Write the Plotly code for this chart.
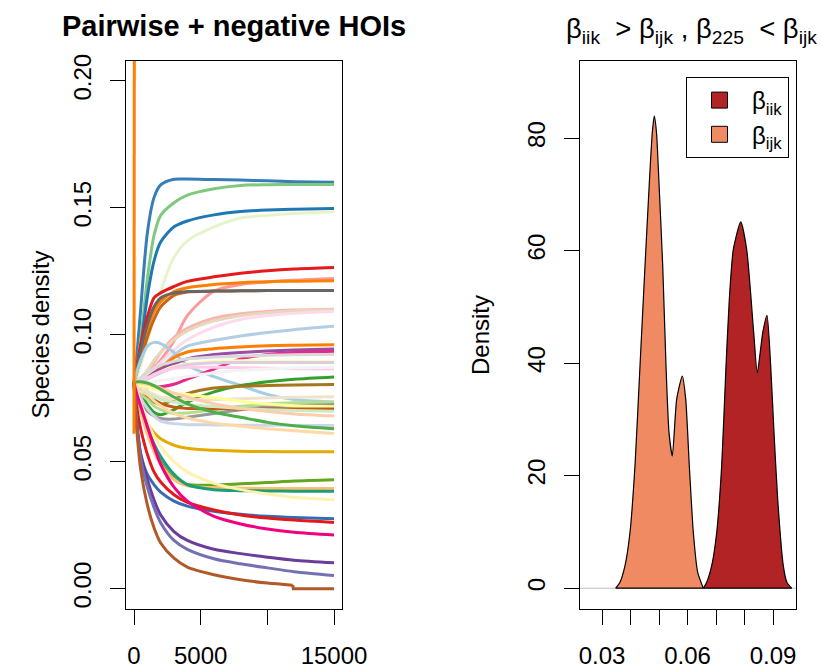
import plotly.graph_objects as go

# ---------------- left panel: species density time series ----------------
TIME = [0, 250, 500, 1000, 1500, 2000, 3000, 4000, 6000, 8000, 10000, 12000, 15000]

sp01 = [0.081, 0.094, 0.110, 0.140, 0.154, 0.159, 0.1612, 0.1613, 0.1611, 0.1609, 0.1606, 0.1603, 0.1601]
sp02 = [0.081, 0.089, 0.098, 0.122, 0.139, 0.147, 0.152, 0.155, 0.1575, 0.1588, 0.1591, 0.1592, 0.1592]
sp03 = [0.081, 0.087, 0.095, 0.115, 0.129, 0.1365, 0.1425, 0.1448, 0.1472, 0.1485, 0.1491, 0.1494, 0.1497]
sp04 = [0.081, 0.084, 0.088, 0.097, 0.107, 0.117, 0.1305, 0.137, 0.1425, 0.146, 0.147, 0.1477, 0.1484]
sp05 = [0.081, 0.089, 0.096, 0.107, 0.1145, 0.1165, 0.119, 0.121, 0.1228, 0.1242, 0.1252, 0.1259, 0.1265]
sp06 = [0.081, 0.0812, 0.082, 0.084, 0.087, 0.090, 0.0975, 0.1075, 0.1172, 0.1198, 0.1208, 0.1215, 0.1222]
sp07 = [0.081, 0.087, 0.092, 0.102, 0.109, 0.113, 0.117, 0.1185, 0.1198, 0.1205, 0.1209, 0.1211, 0.1213]
sp08 = [0.081, 0.086, 0.090, 0.099, 0.106, 0.111, 0.1155, 0.1168, 0.1172, 0.1173, 0.1174, 0.1174, 0.1174]
sp09 = [0.081, 0.088, 0.094, 0.104, 0.111, 0.1145, 0.1165, 0.117, 0.1172, 0.1173, 0.1174, 0.1174, 0.1174]
sp10 = [0.081, 0.0815, 0.082, 0.085, 0.089, 0.093, 0.099, 0.1025, 0.1065, 0.1083, 0.1092, 0.1097, 0.110]
sp11 = [0.081, 0.082, 0.083, 0.086, 0.090, 0.093, 0.098, 0.1015, 0.1055, 0.1075, 0.1087, 0.1094, 0.1098]
sp12 = [0.081, 0.0815, 0.082, 0.084, 0.0865, 0.089, 0.094, 0.098, 0.103, 0.106, 0.1075, 0.1085, 0.1092]
sp13 = [0.081, 0.0815, 0.082, 0.083, 0.085, 0.087, 0.092, 0.0955, 0.0978, 0.0995, 0.1009, 0.102, 0.1033]
sp14 = [0.081, 0.086, 0.090, 0.0955, 0.097, 0.0965, 0.093, 0.088, 0.0835, 0.080, 0.0765, 0.0745, 0.0735]
sp15 = [0.081, 0.081, 0.0815, 0.083, 0.085, 0.087, 0.091, 0.0932, 0.0945, 0.0952, 0.0957, 0.0959, 0.0961]
sp16 = [0.081, 0.081, 0.0812, 0.083, 0.085, 0.0865, 0.0885, 0.0905, 0.0922, 0.093, 0.0936, 0.094, 0.0944]
sp17 = [0.081, 0.0805, 0.080, 0.0795, 0.0793, 0.0795, 0.0805, 0.0825, 0.0865, 0.0905, 0.0922, 0.093, 0.0935]
sp18 = [0.081, 0.082, 0.083, 0.085, 0.0868, 0.088, 0.0895, 0.0905, 0.0912, 0.0916, 0.0919, 0.0921, 0.0922]
sp19 = [0.081, 0.0815, 0.082, 0.083, 0.0843, 0.0855, 0.0875, 0.0885, 0.0895, 0.0898, 0.0897, 0.0896, 0.0895]
sp20 = [0.081, 0.0812, 0.0815, 0.0825, 0.0838, 0.085, 0.087, 0.0882, 0.089, 0.0891, 0.0891, 0.0891, 0.0891]
sp21 = [0.081, 0.0815, 0.082, 0.083, 0.0843, 0.0855, 0.0868, 0.0872, 0.0872, 0.087, 0.0868, 0.0866, 0.0865]
sp22 = [0.081, 0.081, 0.081, 0.0812, 0.0815, 0.082, 0.0827, 0.0835, 0.085, 0.086, 0.0865, 0.0869, 0.0872]
sp23 = [0.081, 0.079, 0.077, 0.0725, 0.0695, 0.0685, 0.0705, 0.0735, 0.0775, 0.080, 0.0815, 0.0825, 0.0834]
sp24 = [0.081, 0.0795, 0.078, 0.075, 0.0735, 0.0725, 0.0745, 0.0768, 0.079, 0.0797, 0.080, 0.0802, 0.0804]
sp25 = [0.081, 0.080, 0.0795, 0.078, 0.0765, 0.0755, 0.0748, 0.0745, 0.0745, 0.0748, 0.0751, 0.0754, 0.0756]
sp26 = [0.081, 0.078, 0.0765, 0.0745, 0.072, 0.0705, 0.069, 0.0692, 0.0705, 0.0718, 0.0727, 0.0732, 0.0735]
sp27 = [0.081, 0.078, 0.075, 0.070, 0.068, 0.067, 0.0668, 0.0675, 0.069, 0.0705, 0.0715, 0.072, 0.0725]
sp28 = [0.081, 0.0805, 0.080, 0.0795, 0.0787, 0.078, 0.077, 0.0765, 0.0752, 0.0738, 0.0727, 0.072, 0.0716]
sp29 = [0.081, 0.079, 0.0775, 0.0765, 0.0745, 0.073, 0.0715, 0.071, 0.0709, 0.0708, 0.0708, 0.0708, 0.0708]
sp30 = [0.081, 0.0795, 0.078, 0.077, 0.0755, 0.0745, 0.0735, 0.0725, 0.0717, 0.071, 0.0705, 0.0702, 0.0699]
sp31 = [0.081, 0.081, 0.081, 0.0805, 0.080, 0.079, 0.077, 0.0755, 0.0728, 0.071, 0.0698, 0.0688, 0.068]
sp32 = [0.081, 0.078, 0.075, 0.071, 0.068, 0.066, 0.065, 0.0646, 0.0645, 0.0644, 0.0644, 0.0643, 0.0643]
sp33 = [0.081, 0.0815, 0.0815, 0.081, 0.080, 0.0785, 0.0755, 0.0728, 0.0695, 0.0675, 0.0655, 0.0642, 0.063]
sp34 = [0.081, 0.079, 0.0775, 0.0765, 0.074, 0.072, 0.069, 0.0672, 0.0652, 0.064, 0.063, 0.0622, 0.0611]
sp35 = [0.081, 0.075, 0.070, 0.065, 0.0615, 0.059, 0.0565, 0.0553, 0.0545, 0.0541, 0.054, 0.0539, 0.0539]
sp36 = [0.081, 0.076, 0.072, 0.063, 0.056, 0.050, 0.0435, 0.041, 0.0408, 0.0413, 0.0418, 0.0424, 0.0429]
sp37 = [0.081, 0.075, 0.070, 0.061, 0.054, 0.049, 0.043, 0.0405, 0.0398, 0.0396, 0.0395, 0.0395, 0.0395]
sp38 = [0.081, 0.076, 0.072, 0.064, 0.057, 0.052, 0.045, 0.041, 0.039, 0.0386, 0.0385, 0.0384, 0.0384]
sp39 = [0.081, 0.077, 0.073, 0.066, 0.060, 0.056, 0.050, 0.046, 0.0415, 0.039, 0.0373, 0.036, 0.035]
sp40 = [0.081, 0.062, 0.053, 0.045, 0.041, 0.038, 0.0345, 0.0325, 0.0305, 0.0293, 0.0285, 0.028, 0.0275]
sp41 = [0.081, 0.070, 0.063, 0.053, 0.046, 0.042, 0.037, 0.034, 0.031, 0.029, 0.0278, 0.027, 0.0261]
sp42 = [0.081, 0.076, 0.072, 0.064, 0.056, 0.049, 0.040, 0.0345, 0.0285, 0.0255, 0.0235, 0.0222, 0.0211]
sp43 = [0.081, 0.064, 0.053, 0.043, 0.035, 0.029, 0.0225, 0.019, 0.0155, 0.0138, 0.0124, 0.0112, 0.0102]
sp44 = [0.081, 0.062, 0.051, 0.040, 0.032, 0.026, 0.019, 0.0155, 0.0118, 0.0098, 0.0082, 0.0067, 0.0052]

SERIES = [sp01, sp02, sp03, sp04, sp05, sp06, sp07, sp08, sp09, sp10, sp11,
          sp12, sp13, sp14, sp15, sp16, sp17, sp18, sp19, sp20, sp21, sp22,
          sp23, sp24, sp25, sp26, sp27, sp28, sp29, sp30, sp31, sp32, sp33,
          sp34, sp35, sp36, sp37, sp38, sp39, sp40, sp41, sp42, sp43, sp44]

COLORS = ["#377EB8", "#7FC97F", "#1F78B4", "#E6F5C9", "#E41A1C", "#FB9A99",
          "#FF7F00", "#C8651B", "#666666", "#FBB4AE", "#E5D8BD", "#FDDAEC",
          "#B3CDE3", "#A6CEE3", "#FF7F00", "#984EA3", "#E7298A", "#D9D9D9",
          "#FFFFB3", "#DECBE4", "#FCCDE5", "#F2F2F2", "#33A02C", "#A6761D",
          "#F1E2CC", "#B2DF8A", "#999999", "#FFFF99", "#BF5B17", "#CCEBC5",
          "#FDCDAC", "#CBD5E8", "#4DAF4A", "#FED9A6", "#E6AB02", "#66A61E",
          "#FDBF6F", "#1B9E77", "#FFF2AE", "#386CB0", "#E31A1C", "#F0027F",
          "#6A3D9A", "#7570B3"]

# brown species that drops to zero near t = 12000
BROWN_TIME = [0, 250, 500, 1000, 1500, 2000, 3000, 4000, 6000, 8000, 10000, 11900]
BROWN = [0.081, 0.060, 0.047, 0.033, 0.024, 0.018, 0.012, 0.0085, 0.0055, 0.0035, 0.0022, 0.0014]
BROWN_TAIL_TIME = [11900, 11950, 15000]
BROWN_TAIL = [0.0014, 0.0, 0.0]
BROWN_COLOR = "#B15928"

# species that explodes immediately
SPIKE_TIME = [0, 60]
SPIKE = [0.061, 0.45]
SPIKE_COLOR = "#FF7F00"

X_TICKS = [0, 5000, 15000]
X_TICKTEXT = ["0", "5000", "15000"]
X_MINOR = [10000]
Y_TICKS = [0, 0.05, 0.10, 0.15, 0.20]
Y_TICKTEXT = ["0.00", "0.05", "0.10", "0.15", "0.20"]

# ---------------- right panel: densities ----------------
IJK_X = [0.03481, 0.03632, 0.03807, 0.03982, 0.04158, 0.04333, 0.04509, 0.04660,
         0.04765, 0.04835, 0.04912, 0.05000, 0.05130, 0.05246, 0.05351, 0.05467,
         0.05621, 0.05818, 0.05937, 0.06063, 0.06204, 0.06358, 0.06554]
IJK_Y = [0.0, 1.06, 4.0, 9.9, 21.8, 39.5, 57.3, 72.0,
         81.0, 83.9, 81.0, 72.0, 57.3, 39.5, 27.7, 23.5,
         33.6, 37.7, 33.6, 21.8, 9.9, 2.8, 0.0]
IIK_X = [0.06554, 0.06674, 0.06849, 0.07025, 0.07200, 0.07351, 0.07467, 0.07607,
         0.07867, 0.08077, 0.08323, 0.08449, 0.08639, 0.08789, 0.08919, 0.09035,
         0.09165, 0.09361, 0.09491, 0.09656]
IIK_Y = [0.0, 1.06, 4.0, 9.9, 21.8, 39.5, 51.3, 60.2,
         65.1, 60.2, 45.4, 38.3, 45.4, 48.5, 39.5, 27.7,
         15.8, 4.0, 1.0, 0.0]
IIK_COLOR = "#B22325"
IJK_COLOR = "#EF8A62"

D_XTICKS = [0.03, 0.06, 0.09]
D_XTICKTEXT = ["0.03", "0.06", "0.09"]
D_XMINOR = [0.04, 0.05, 0.07, 0.08]
D_YTICKS = [0, 20, 40, 60, 80]

W, H = 822, 672
FONT = "Liberation Sans, Arial, Helvetica, sans-serif"

fig = go.Figure()

for vals, col in zip(SERIES, COLORS):
    fig.add_trace(go.Scatter(x=TIME, y=vals, mode="lines",
                             line=dict(color=col, width=3, shape="spline", smoothing=0.8),
                             showlegend=False, hoverinfo="skip", xaxis="x", yaxis="y"))
fig.add_trace(go.Scatter(x=BROWN_TIME, y=BROWN, mode="lines",
                         line=dict(color=BROWN_COLOR, width=3, shape="spline", smoothing=0.8),
                         showlegend=False, xaxis="x", yaxis="y"))
fig.add_trace(go.Scatter(x=BROWN_TAIL_TIME, y=BROWN_TAIL, mode="lines",
                         line=dict(color=BROWN_COLOR, width=3),
                         showlegend=False, xaxis="x", yaxis="y"))
fig.add_trace(go.Scatter(x=SPIKE_TIME, y=SPIKE, mode="lines",
                         line=dict(color=SPIKE_COLOR, width=3),
                         showlegend=False, xaxis="x", yaxis="y"))

# densities
for xs, ys, col in [(IJK_X, IJK_Y, IJK_COLOR), (IIK_X, IIK_Y, IIK_COLOR)]:
    fig.add_trace(go.Scatter(x=xs, y=ys, mode="lines", fill="tozeroy", fillcolor=col,
                             line=dict(color="black", width=1.2, shape="spline", smoothing=0.6),
                             showlegend=False, xaxis="x2", yaxis="y2"))
    fig.add_trace(go.Scatter(x=[xs[0], xs[-1]], y=[0, 0], mode="lines",
                             line=dict(color="black", width=1.2),
                             showlegend=False, xaxis="x2", yaxis="y2"))

# legend entries
for name, col in [("β<sub>iik</sub>", IIK_COLOR), ("β<sub>ijk</sub>", IJK_COLOR)]:
    fig.add_trace(go.Scatter(x=[None], y=[None], mode="markers", name=name,
                             marker=dict(symbol="square", size=17, color=col,
                                         line=dict(color="black", width=1)),
                             xaxis="x2", yaxis="y2"))

ydom = [1 - 609 / H, 1 - 60.5 / H]
minor_common = dict(ticks="outside", ticklen=15, tickwidth=1, tickcolor="black", showgrid=False)
axis_common = dict(showline=True, mirror=True, linecolor="black", linewidth=1,
                   ticks="outside", ticklen=15, tickwidth=1, tickcolor="black",
                   showgrid=False, zeroline=False,
                   tickfont=dict(family=FONT, size=24, color="black"))

fig.update_layout(
    width=W, height=H,
    margin=dict(l=0, r=0, t=0, b=0, autoexpand=False),
    paper_bgcolor="white", plot_bgcolor="white",
    font=dict(family=FONT, size=24, color="black"),
    xaxis=dict(domain=[126 / W, 342 / W], range=[-600, 15600],
               tickmode="array", tickvals=X_TICKS, ticktext=X_TICKTEXT,
               minor=dict(tickvals=X_MINOR, **minor_common),
               ticklabelstandoff=10, anchor="y", **axis_common),
    yaxis=dict(domain=ydom, range=[-0.008, 0.208], tickmode="array",
               tickvals=Y_TICKS, ticktext=Y_TICKTEXT, tickangle=-90,
               ticklabelstandoff=9, anchor="x", **axis_common),
    xaxis2=dict(domain=[580 / W, 796 / W], range=[0.02228, 0.09807],
                tickmode="array", tickvals=D_XTICKS, ticktext=D_XTICKTEXT,
                minor=dict(tickvals=D_XMINOR, **minor_common),
                ticklabelstandoff=10, anchor="y2", **axis_common),
    yaxis2=dict(domain=ydom, range=[-3.7, 93.8], tickmode="array",
                tickvals=D_YTICKS, tickangle=-90, ticklabelstandoff=9,
                anchor="x2", **axis_common),
    legend=dict(x=686 / W, y=1 - 77 / H, xanchor="left", yanchor="top",
                bgcolor="white", bordercolor="black", borderwidth=1,
                font=dict(family=FONT, size=24, color="black"),
                itemsizing="trace", itemwidth=55, tracegroupgap=4),
    shapes=[dict(type="line", xref="x2 domain", yref="y2", x0=0, x1=1, y0=0, y1=0,
                 line=dict(color="#BEBEBE", width=1), layer="below")],
    annotations=[
        dict(text="<b>Pairwise + negative HOIs</b>", xref="paper", yref="paper",
             x=234 / W, y=1 - 26 / H, xanchor="center", yanchor="middle",
             showarrow=False, font=dict(family=FONT, size=29, color="black")),
        dict(text="β<sub>iik</sub>  &gt; β<sub>ijk</sub> , β<sub>225</sub>  &lt; β<sub>ijk</sub>",
             xref="paper", yref="paper", x=691 / W, y=1 - 31 / H,
             xanchor="center", yanchor="middle", showarrow=False,
             font=dict(family=FONT, size=27.5, color="black")),
        dict(text="Species density", xref="paper", yref="paper", x=40 / W, y=1 - 334.5 / H,
             textangle=-90, xanchor="center", yanchor="middle", showarrow=False,
             font=dict(family=FONT, size=24, color="black")),
        dict(text="Density", xref="paper", yref="paper", x=480 / W, y=1 - 335 / H,
             textangle=-90, xanchor="center", yanchor="middle", showarrow=False,
             font=dict(family=FONT, size=24, color="black")),
    ],
)

fig.write_html("out.html")
